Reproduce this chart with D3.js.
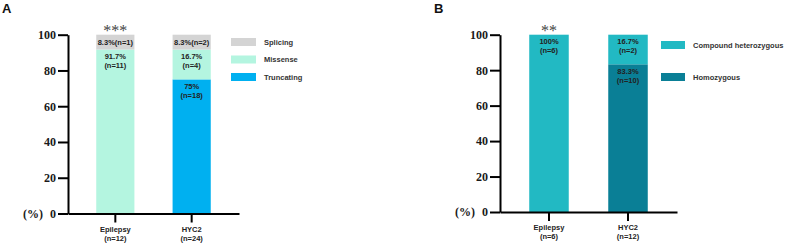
<!DOCTYPE html>
<html>
<head>
<meta charset="utf-8">
<script src="https://cdn.jsdelivr.net/npm/d3@7"></script>
<style>
  body { margin: 0; background: #fff; }
  svg { display: block; }
  .serif { font-family: "Liberation Serif", "DejaVu Serif", serif; font-weight: bold; }
  .sans { font-family: "Liberation Sans", Arial, Helvetica, sans-serif; font-weight: bold; }
</style>
</head>
<body>
<div id="chart"></div>
<script>
// panel A : variant type
const groupsA = ["Epilepsy", "HYC2"];
const totalA = [12, 24];
const seriesA = ["Truncating", "Missense", "Splicing"];
const truncPct = [0, 75];
const truncN = [0, 18];
const missensePct = [91.7, 16.7];
const missenseN = [11, 4];
const splicingPct = [8.3, 8.3];
const splicingN = [1, 2];
const starsA = ["***", ""];

// panel B : zygosity
const groupsB = ["Epilepsy", "HYC2"];
const totalB = [6, 12];
const seriesB = ["Homozygous", "Compound heterozygous"];
const homoPct = [0, 83.3];
const homoN = [0, 10];
const compPct = [100, 16.7];
const compN = [6, 2];
const starsB = ["**", ""];

const yTicks = [0, 20, 40, 60, 80, 100];

const W = 787, H = 244;
const svg = d3.select("#chart").append("svg")
  .attr("width", W).attr("height", H);

function panel(opt) {
  const g = svg.append("g");
  const rows = opt.groups.map((name, i) => {
    const r = { name: name, total: opt.totals[i] };
    opt.series.forEach((s, k) => { r[s] = opt.pct[k][i]; r[s + "_n"] = opt.n[k][i]; });
    return r;
  });

  const x = d3.scaleBand().domain(opt.groups)
    .range([opt.left, opt.right])
    .paddingInner(0.5).paddingOuter(0.37);
  const y = d3.scaleLinear().domain([0, 100]).range([opt.bottom, opt.top]);

  const stacked = d3.stack().keys(opt.series)(rows);

  // bars
  stacked.forEach((layer, k) => {
    g.append("g").selectAll("rect")
      .data(layer)
      .join("rect")
      .attr("x", d => x(d.data.name))
      .attr("y", d => y(d[1]))
      .attr("width", x.bandwidth())
      .attr("height", d => y(d[0]) - y(d[1]))
      .attr("fill", opt.colors[k]);
  });

  // labels in bars
  const fmt = v => (Math.round(v * 10) / 10) + "%";
  stacked.forEach((layer, k) => {
    layer.forEach(d => {
      const v = d[1] - d[0];
      if (v <= 0) return;
      const cx = x(d.data.name) + x.bandwidth() / 2;
      const top = y(d[1]);
      const h = y(d[0]) - y(d[1]);
      const n = d.data[opt.series[k] + "_n"];
      const t = g.append("text")
        .attr("class", "sans")
        .attr("text-anchor", "middle")
        .style("font-size", "7.5px")
        .attr("fill", "#222");
      if (h < 20) {
        t.attr("x", cx).attr("y", top + h / 2 + 2.8).text(fmt(v) + "(n=" + n + ")");
      } else {
        t.append("tspan").attr("x", cx).attr("y", top + 9.5).text(fmt(v));
        t.append("tspan").attr("x", cx).attr("y", top + 18.5).text("(n=" + n + ")");
      }
    });
  });

  // significance stars
  g.append("g").selectAll("text")
    .data(opt.groups.map((name, i) => ({ name: name, s: opt.stars[i] })))
    .join("text")
    .attr("x", d => x(d.name) + x.bandwidth() / 2)
    .attr("y", opt.top + 1)
    .attr("text-anchor", "middle")
    .style("font-family", '"Liberation Serif", "DejaVu Serif", serif')
    .style("font-size", "16px")
    .attr("fill", "#444")
    .text(d => d.s);

  // y axis
  const ya = g.append("g")
    .attr("transform", "translate(" + opt.left + ",0)")
    .call(d3.axisLeft(y).tickValues(yTicks).tickSize(10).tickSizeOuter(0).tickPadding(2));
  ya.attr("font-family", null).attr("font-size", null);
  ya.select(".domain").attr("stroke", "#000").attr("stroke-width", 2);
  ya.selectAll(".tick line").attr("stroke", "#000").attr("stroke-width", 2);
  ya.selectAll(".tick text")
    .attr("class", "serif")
    .style("font-size", "12px").attr("fill", "#1a1a1a");

  g.append("text")
    .attr("class", "serif")
    .attr("x", opt.left - 25).attr("y", opt.bottom + 4)
    .attr("text-anchor", "end")
    .style("font-size", "12px").attr("fill", "#1a1a1a")
    .text("(%)");

  // x axis
  const xa = g.append("g")
    .attr("transform", "translate(0," + opt.bottom + ")")
    .call(d3.axisBottom(x).tickSize(9).tickSizeOuter(0).tickFormat(""));
  xa.select(".domain").attr("stroke", "#000").attr("stroke-width", 2);
  xa.selectAll(".tick line").attr("stroke", "#000").attr("stroke-width", 2);

  g.append("g").selectAll("text")
    .data(rows)
    .join("text")
    .attr("class", "sans")
    .attr("text-anchor", "middle")
    .style("font-size", "7.5px").attr("fill", "#222")
    .each(function (d) {
      const cx = x(d.name) + x.bandwidth() / 2;
      d3.select(this).append("tspan").attr("x", cx).attr("y", opt.bottom + 18).text(d.name);
      d3.select(this).append("tspan").attr("x", cx).attr("y", opt.bottom + 27).text("(n=" + d.total + ")");
    });

  // panel letter
  g.append("text")
    .attr("class", "sans")
    .attr("x", opt.letterX).attr("y", 12.5)
    .style("font-size", "13px").attr("fill", "#111")
    .text(opt.letter);

  // legend (top entry = last series)
  const leg = opt.series.map((s, k) => ({ s: s, c: opt.colors[k] })).reverse();
  const lg = g.append("g").selectAll("g")
    .data(leg)
    .join("g")
    .attr("transform", (d, i) => "translate(" + opt.legX + "," + (opt.legY + i * opt.legStep) + ")");
  lg.append("rect").attr("width", opt.legW).attr("height", 8).attr("fill", d => d.c);
  lg.append("text")
    .attr("class", "sans")
    .attr("x", opt.legW + 8).attr("y", 6.8)
    .style("font-size", "7.5px").attr("fill", "#333")
    .text(d => d.s);
}

panel({
  groups: groupsA, totals: totalA, series: seriesA,
  pct: [truncPct, missensePct, splicingPct],
  n: [truncN, missenseN, splicingN],
  stars: starsA,
  colors: ["#00b0f0", "#b4f5e0", "#d4d4d4"],
  left: 68, right: 239, top: 34.7, bottom: 213.5,
  letter: "A", letterX: 2,
  legX: 231, legY: 38, legStep: 17.5, legW: 25
});

panel({
  groups: groupsB, totals: totalB, series: seriesB,
  pct: [homoPct, compPct],
  n: [homoN, compN],
  stars: starsB,
  colors: ["#0a7f96", "#22b9c3"],
  left: 500, right: 677, top: 34.7, bottom: 212,
  letter: "B", letterX: 434,
  legX: 661, legY: 41, legStep: 32, legW: 24
});
</script>
</body>
</html>
